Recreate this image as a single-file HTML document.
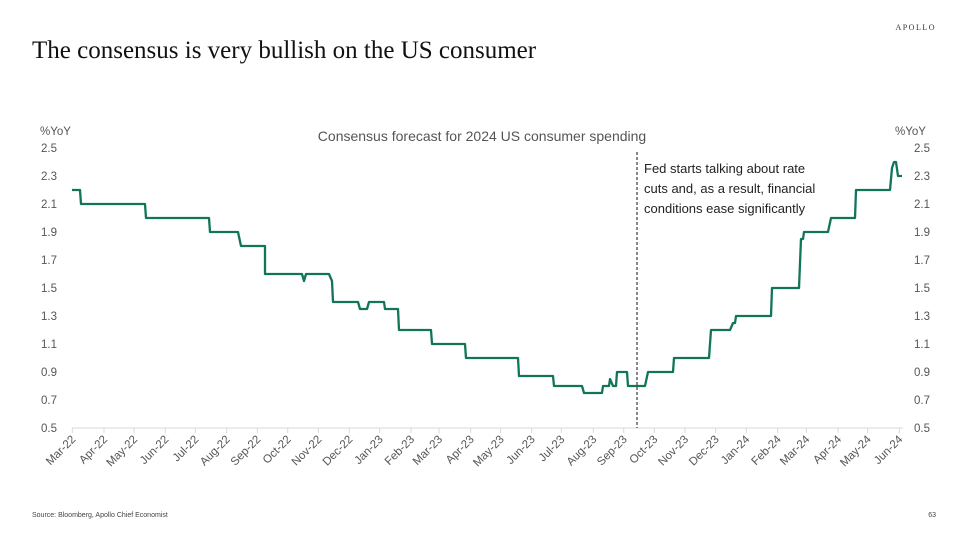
<!DOCTYPE html>
<html><head><meta charset="utf-8"><style>
body{margin:0;background:#fff;}
svg{display:block;}
</style></head><body>
<svg width="964" height="537" viewBox="0 0 964 537" xmlns="http://www.w3.org/2000/svg">
<text x="936" y="30" text-anchor="end" font-family="Liberation Serif, serif" font-size="8" letter-spacing="1.5" fill="#333">APOLLO</text>
<text x="32" y="58" font-family="Liberation Serif, serif" font-size="25" fill="#111">The consensus is very bullish on the US consumer</text>
<text x="482" y="141" text-anchor="middle" font-family="Liberation Sans, sans-serif" font-size="14" fill="#555">Consensus forecast for 2024 US consumer spending</text>
<g font-family="Liberation Sans, sans-serif" font-size="11.5" fill="#555">
<text x="40" y="135">%YoY</text>
<text x="895" y="135">%YoY</text>
<g text-anchor="start">
<text x="41" y="152">2.5</text><text x="41" y="180">2.3</text><text x="41" y="208">2.1</text><text x="41" y="236">1.9</text><text x="41" y="264">1.7</text><text x="41" y="292">1.5</text><text x="41" y="320">1.3</text><text x="41" y="348">1.1</text><text x="41" y="376">0.9</text><text x="41" y="404">0.7</text><text x="41" y="432">0.5</text>
<text x="914" y="152">2.5</text><text x="914" y="180">2.3</text><text x="914" y="208">2.1</text><text x="914" y="236">1.9</text><text x="914" y="264">1.7</text><text x="914" y="292">1.5</text><text x="914" y="320">1.3</text><text x="914" y="348">1.1</text><text x="914" y="376">0.9</text><text x="914" y="404">0.7</text><text x="914" y="432">0.5</text>
</g>
</g>
<line x1="72" y1="428" x2="903" y2="428" stroke="#d9d9d9" stroke-width="1"/>
<g stroke="#d9d9d9" stroke-width="1" id="ticks"></g>
<g font-family="Liberation Sans, sans-serif" font-size="11.5" fill="#555" text-anchor="end" id="xl"></g>
<line x1="637" y1="152" x2="637" y2="428" stroke="#111" stroke-width="1" stroke-dasharray="3,2"/>
<g font-family="Liberation Sans, sans-serif" font-size="13" fill="#222">
<text x="644" y="173">Fed starts talking about rate</text>
<text x="644" y="193">cuts and, as a result, financial</text>
<text x="644" y="213">conditions ease significantly</text>
</g>
<polyline fill="none" stroke="#11755a" stroke-width="2.3" stroke-linejoin="round" points="72,190 80,190 81,204 145,204 146,218 209,218 210,232 238,232 241,246 265,246 265,274 302,274 304,281 306,274 329,274 332,281 333,302 358,302 360,309 367,309 369,302 384,302 385,309 398,309 399,330 431,330 432,344 465,344 466,358 518,358 519,376 553,376 554,386 582,386 584,393 602,393 603,386 609,386 610,379 613,386 616,386 617,372 627,372 628,386 645,386 648,372 673,372 674,358 709,358 711,330 730,330 733,323 735,323 736,316 771,316 772,288 799,288 801,239 803,239 804,232 828,232 831,218 855,218 856,190 890,190 892,168 894,162 896,162 898,176 902,176"/>
<text x="32" y="517" font-family="Liberation Sans, sans-serif" font-size="7" fill="#444">Source: Bloomberg, Apollo Chief Economist</text>
<text x="936" y="517" text-anchor="end" font-family="Liberation Sans, sans-serif" font-size="7" fill="#444">63</text>
<script>
var xs=[72.3,104,134,165.3,195.3,226.7,257.3,287.7,318.3,349.3,379.7,411,439,470.7,500.7,531.7,561.3,593.3,623.7,654.3,685,715.7,746.3,777.7,806.3,838,867.7,899.3];
var m=["Mar","Apr","May","Jun","Jul","Aug","Sep","Oct","Nov","Dec","Jan","Feb"];
var labs=[];var mi=0,y=22;
for(var i=0;i<28;i++){labs.push(m[mi]+"-"+y);mi++;if(mi==12){mi=0;}if(m[mi]=="Jan"&&mi==10){y++;}}
var ns="http://www.w3.org/2000/svg",t=document.getElementById("ticks"),g=document.getElementById("xl");
xs.forEach(function(x,i){var l=document.createElementNS(ns,"line");l.setAttribute("x1",x);l.setAttribute("x2",x);l.setAttribute("y1",428);l.setAttribute("y2",433);t.appendChild(l);
var s=document.createElementNS(ns,"text");s.setAttribute("transform","translate("+(x+4)+",440) rotate(-45)");s.textContent=labs[i];g.appendChild(s);});
</script>
</svg>
</body></html>
